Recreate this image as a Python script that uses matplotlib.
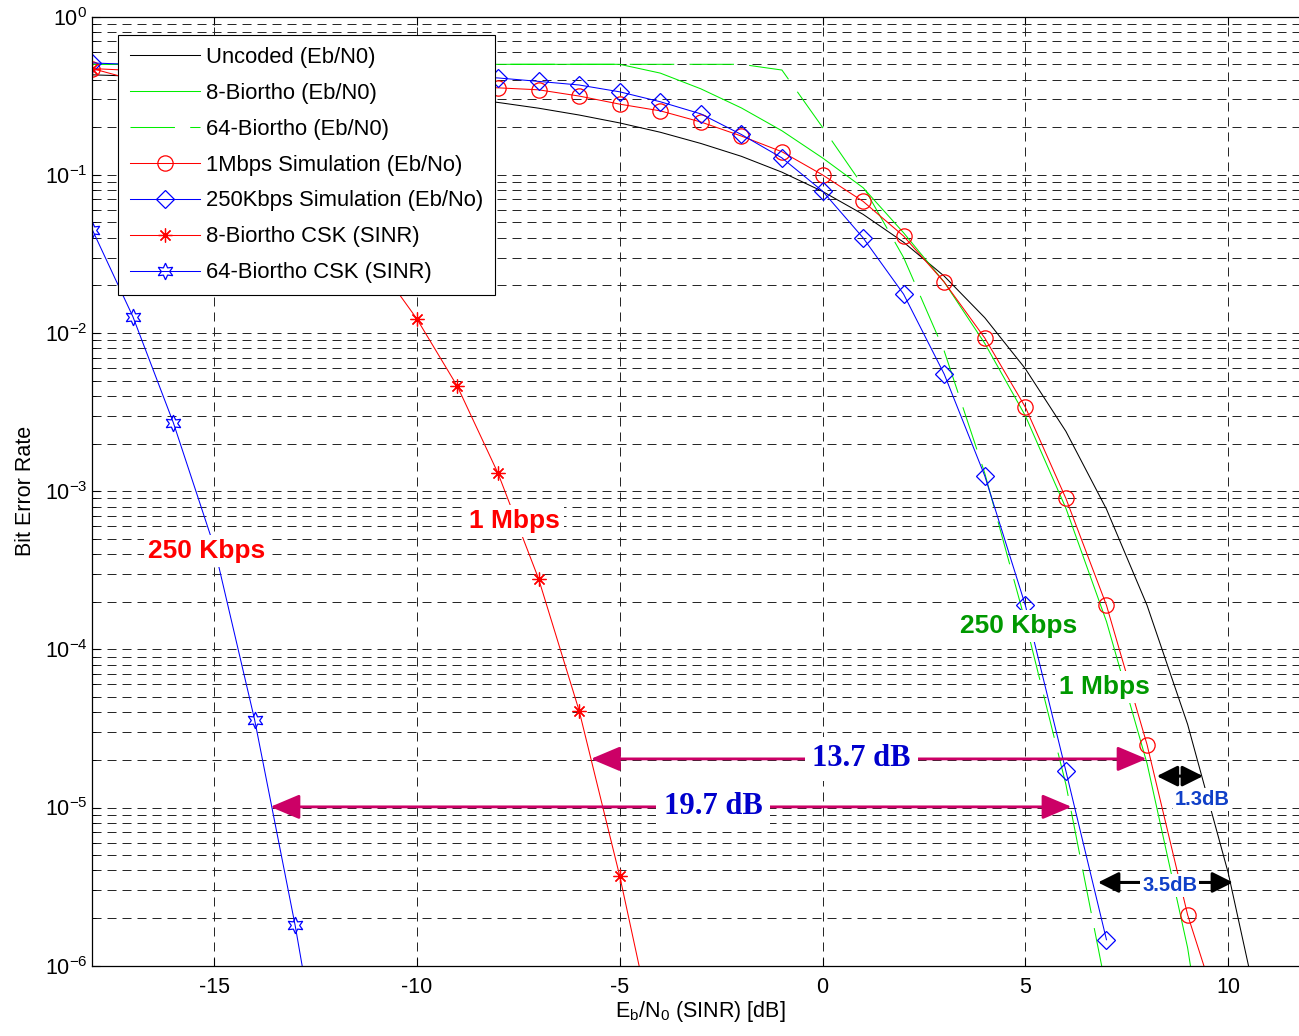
import matplotlib
matplotlib.use("Agg")
import matplotlib.pyplot as plt
import numpy as np

plt.rcParams.update({
    "font.family": ["Liberation Sans", "DejaVu Sans"],
    "font.size": 15.5,
    "mathtext.fontset": "custom",
    "mathtext.rm": "Liberation Sans",
    "mathtext.it": "Liberation Sans:italic",
    "mathtext.bf": "Liberation Sans:bold",
    "lines.scale_dashes": False,
    "axes.unicode_minus": False,
})

# ---- data ----
x_uncoded = np.arange(-18, 12)
ber_uncoded = [0.429, 0.421, 0.411, 0.401, 0.389, 0.376, 0.361, 0.345, 0.327, 0.308,
               0.287, 0.264, 0.239, 0.213, 0.186, 0.158, 0.131, 0.104, 0.0786, 0.0563,
               0.0375, 0.0229, 0.0125, 5.95e-3, 2.39e-3, 7.7e-4, 1.9e-4, 3.36e-5, 3.87e-6, 2.6e-7]

x_bi8 = np.arange(-18, 11)
ber_bi8 = [0.5] * 14 + [0.44, 0.35, 0.265, 0.19, 0.128, 0.083, 0.043, 0.021, 8.6e-3,
                        3.0e-3, 7.8e-4, 1.5e-4, 1.9e-5, 1.3e-6, 3e-8]

x_bi64 = np.arange(-18, 8)
ber_bi64 = [0.5] * 17 + [0.46, 0.2, 0.085, 0.03, 7.7e-3, 1.3e-3, 1.5e-4, 1.4e-5, 7e-7]

x_sim1m = [-18, -8, -7, -6, -5, -4, -3, -2, -1, 0, 1, 2, 3, 4, 5, 6, 7, 8, 9, 10]
ber_sim1m = [0.47, 0.355, 0.345, 0.315, 0.28, 0.254, 0.216, 0.176, 0.14, 0.1, 0.068,
             0.041, 0.021, 9.3e-3, 3.4e-3, 9.0e-4, 1.9e-4, 2.5e-5, 2.1e-6, 3.3e-7]

x_sim250 = [-18, -8, -7, -6, -5, -4, -3, -2, -1, 0, 1, 2, 3, 4, 5, 6, 7]
ber_sim250 = [0.51, 0.41, 0.39, 0.37, 0.335, 0.29, 0.243, 0.18, 0.128, 0.079, 0.04,
              0.0176, 5.5e-3, 1.25e-3, 1.9e-4, 1.7e-5, 1.46e-6]

x_csk8 = np.arange(-18, -3)
ber_csk8 = [0.47, 0.40, 0.32, 0.24, 0.17, 0.105, 0.058, 0.028, 0.0123, 4.6e-3,
            1.3e-3, 2.8e-4, 4.1e-5, 3.7e-6, 2.4e-7]

x_csk64 = np.arange(-18, -11)
ber_csk64 = [0.045, 0.0127, 2.7e-3, 4.5e-4, 3.6e-5, 1.8e-6, 6e-8]

# ---- figure ----
fig = plt.figure(figsize=(12.99, 10.36), dpi=100)
ax = fig.add_axes([92.3 / 1299, 1 - 965.7 / 1036, 1217 / 1299, 949 / 1036])

lw = 0.75
ax.semilogy(x_uncoded, ber_uncoded, color="k", lw=lw, label="Uncoded (Eb/N0)")
ax.semilogy(x_bi8, ber_bi8, color="#00ee00", lw=lw, label="8-Biortho (Eb/N0)")
ax.semilogy(x_bi64, ber_bi64, color="#00ee00", lw=lw, ls=(0, (32, 11)),
            label="64-Biortho (Eb/N0)")
ax.semilogy(x_sim1m, ber_sim1m, color="red", lw=lw, marker="o", ms=11, mfc="none",
            mew=0.9, label="1Mbps Simulation (Eb/No)")
ax.semilogy(x_sim250, ber_sim250, color="blue", lw=lw, marker="D", ms=9, mfc="none",
            mew=0.9, label="250Kbps Simulation (Eb/No)")
ax.semilogy(x_csk8, ber_csk8, color="red", lw=lw, marker=(8, 2, 0), ms=10, mew=0.9,
            label="8-Biortho CSK (SINR)")
ax.semilogy(x_csk64, ber_csk64, color="blue", lw=lw, marker=(6, 1, 0), ms=12, mfc="none",
            mew=0.9, label="64-Biortho CSK (SINR)")

ax.set_xlim(-18, 12)
ax.set_ylim(1e-6, 1)
ax.set_xticks([-15, -10, -5, 0, 5, 10])
ax.tick_params(which="both", direction="in", top=True, right=True, labelsize=15.5)
ax.tick_params(which="major", length=6)
ax.tick_params(which="minor", length=3)
ax.tick_params(axis="x", pad=8)
ax.grid(True, which="major", color="#222222", lw=0.7, ls=(0, (6.5, 4.3)))
ax.grid(True, which="minor", axis="y", color="#222222", lw=0.7, ls=(0, (6.5, 4.3)))

ax.set_xlabel(r"E$_\mathrm{b}$/N$_0$ (SINR) [dB]", fontsize=15.5, labelpad=1)
ax.set_ylabel("Bit Error Rate", fontsize=15.5, labelpad=6)

leg = ax.legend(loc="upper left", bbox_to_anchor=(0.021, 0.981), borderaxespad=0,
                fancybox=False, edgecolor="k", framealpha=1, numpoints=1,
                handlelength=3.2, handletextpad=0.25, labelspacing=0.68,
                borderpad=0.55, fontsize=15.8)
leg.get_frame().set_linewidth(0.8)
leg.set_zorder(20)

white = dict(facecolor="white", edgecolor="none", pad=3)

# rate labels
ax.text(-15.18, 4.2e-4, "250 Kbps", color="red", fontsize=19, fontweight="bold",
        ha="center", va="center", bbox=white, zorder=10)
ax.text(-7.6, 6.5e-4, "1 Mbps", color="red", fontsize=19, fontweight="bold",
        ha="center", va="center", bbox=white, zorder=10)
ax.text(4.83, 1.4e-4, "250 Kbps", color="#009900", fontsize=19, fontweight="bold",
        ha="center", va="center", bbox=white, zorder=10)
ax.text(6.96, 5.8e-5, "1 Mbps", color="#009900", fontsize=19, fontweight="bold",
        ha="center", va="center", bbox=white, zorder=10)

# gain arrows
mag = "#cc0066"
ax.annotate("", xy=(-5.71, 2.03e-5), xytext=(7.99, 2.03e-5),
            arrowprops=dict(arrowstyle="<|-|>,head_length=0.9,head_width=0.38",
                            color=mag, lw=2.0, shrinkA=0, shrinkB=0, mutation_scale=20),
            zorder=8)
ax.annotate("", xy=(-13.61, 1.01e-5), xytext=(6.14, 1.01e-5),
            arrowprops=dict(arrowstyle="<|-|>,head_length=0.9,head_width=0.38",
                            color=mag, lw=2.0, shrinkA=0, shrinkB=0, mutation_scale=20),
            zorder=8)
ax.text(0.96, 2.03e-5, "13.7 dB", color="#0000cc", fontsize=22, fontweight="bold",
        family="Liberation Serif", ha="center", va="center",
        bbox=dict(facecolor="white", edgecolor="none", boxstyle="square,pad=0.25"), zorder=10)
ax.text(-2.69, 1.01e-5, "19.7 dB", color="#0000cc", fontsize=22, fontweight="bold",
        family="Liberation Serif", ha="center", va="center",
        bbox=dict(facecolor="white", edgecolor="none", boxstyle="square,pad=0.25"), zorder=10)

ax.annotate("", xy=(8.24, 1.58e-5), xytext=(9.38, 1.58e-5),
            arrowprops=dict(arrowstyle="<|-|>,head_length=0.7,head_width=0.35",
                            color="k", lw=2.2, shrinkA=0, shrinkB=0, mutation_scale=18),
            zorder=8)
ax.annotate("", xy=(6.79, 3.36e-6), xytext=(10.12, 3.36e-6),
            arrowprops=dict(arrowstyle="<|-|>,head_length=0.7,head_width=0.35",
                            color="k", lw=2.2, shrinkA=0, shrinkB=0, mutation_scale=18),
            zorder=8)
ax.text(9.36, 1.12e-5, "1.3dB", color="#1040c8", fontsize=14.5, fontweight="bold",
        ha="center", va="center", bbox=dict(facecolor="white", edgecolor="none", pad=1.5),
        zorder=10)
ax.text(8.56, 3.2e-6, "3.5dB", color="#1040c8", fontsize=14.5, fontweight="bold",
        ha="center", va="center", bbox=dict(facecolor="white", edgecolor="none", pad=1.5),
        zorder=10)

for s in ax.spines.values():
    s.set_linewidth(0.9)

fig.savefig("out.png", dpi=100)
